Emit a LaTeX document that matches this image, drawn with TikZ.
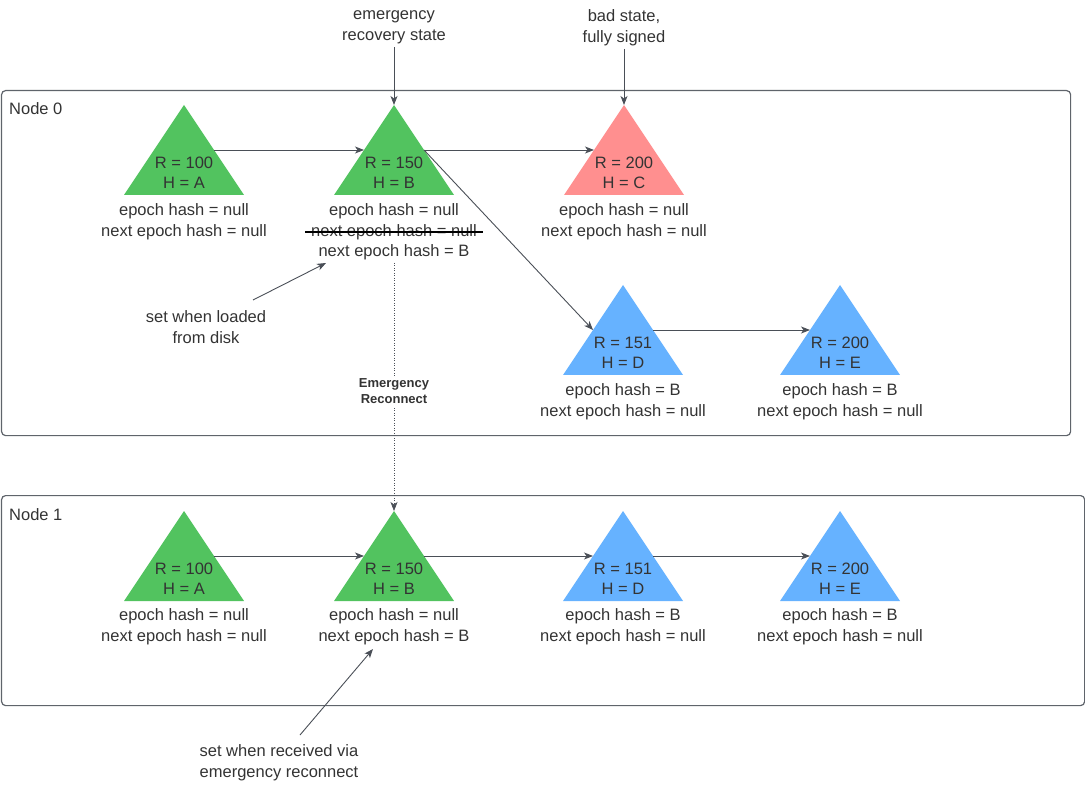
\documentclass[tikz,border=0pt]{standalone}
\usepackage{fontspec}
\setmainfont{Liberation Sans}
\usetikzlibrary{arrows.meta,calc}
\definecolor{txt}{HTML}{333333}
\definecolor{ln}{HTML}{4A4F57}
\definecolor{gfill}{HTML}{52C35F}
\definecolor{rfill}{HTML}{FF8F8F}
\definecolor{bfill}{HTML}{66B2FF}
\definecolor{boxc}{HTML}{5F646B}
\tikzset{
  txtnode/.style={text=txt, align=center, font=\fontsize{16.5}{20}\selectfont, inner sep=2pt, yshift=-2pt},
  lbl/.style={text=txt, align=center, font=\fontsize{16.5}{21}\selectfont, inner sep=3pt, yshift=-2pt},
  arr/.style={draw=ln, line width=0.9pt, -{Stealth[length=9pt,width=7pt,inset=2.5pt]}},
  grpbox/.style={draw=boxc, line width=1.2pt, rounded corners=4pt, anchor=north west, inner sep=0pt},
  strikeline/.style={draw=black, line width=1.5pt},
  dotline/.style={draw=ln, line width=0.6pt, dash pattern=on 1pt off 1.5pt, -{Stealth[length=9pt,width=7pt,inset=2.5pt]}},
  erlbl/.style={text=txt, align=center, font=\bfseries\fontsize{13}{16}\selectfont, fill=white, inner sep=2pt}
}
\newcommand{\mytri}[5]{%
  \coordinate (#1-top) at (#2,#3);
  \coordinate (#1-bl) at ($(#2,#3)+(-60,90)$);
  \coordinate (#1-br) at ($(#2,#3)+(60,90)$);
  \fill[fill=#4] (#1-top) -- (#1-bl) -- (#1-br) -- cycle;
  \coordinate (#1-le) at ($(#1-top)!0.5!(#1-bl)$);
  \coordinate (#1-re) at ($(#1-top)!0.5!(#1-br)$);
  \node[txtnode] (#1) at ($(#1-top)+(0,66)$) {#5};
}
\begin{document}
\begin{tikzpicture}[x=1pt,y=-1pt]
\useasboundingbox (0,0) rectangle (1085,786);

% group boxes
\node[grpbox, minimum width=1069pt, minimum height=345pt] (G0) at (1,90) {};
\node[grpbox, minimum width=1083pt, minimum height=210pt] (G1) at (1,495) {};
\node[lbl, anchor=west] (G0lab) at (6,107) {Node 0};
\node[lbl, anchor=west] (G1lab) at (6,513) {Node 1};

% Node 0 triangles
\mytri{A0}{184}{105}{gfill}{R = 100\\H = A}
\mytri{B0}{394}{105}{gfill}{R = 150\\H = B}
\mytri{C0}{624}{105}{rfill}{R = 200\\H = C}
\mytri{D0}{623}{285}{bfill}{R = 151\\H = D}
\mytri{E0}{840}{285}{bfill}{R = 200\\H = E}

\node[lbl] (A0-lab) at (184,219.5) {epoch hash = null\\next epoch hash = null};
\node[lbl] (B0-l1) at (394,209) {epoch hash = null};
\node[lbl, inner xsep=6pt] (B0-l2) at (394,230) {next epoch hash = null};
\node[lbl] (B0-l3) at (394,250) {next epoch hash = B};
\draw[strikeline] (B0-l2.west) -- (B0-l2.east);
\node[lbl] (C0-lab) at (624,219.5) {epoch hash = null\\next epoch hash = null};
\node[lbl] (D0-lab) at (623,399.5) {epoch hash = B\\next epoch hash = null};
\node[lbl] (E0-lab) at (840,399.5) {epoch hash = B\\next epoch hash = null};

\draw[arr] (A0-re) -- (B0-le);
\draw[arr] (B0-re) -- (C0-le);
\draw[arr] (B0-re) -- (D0-le);
\draw[arr] (D0-re) -- (E0-le);

% Node 1 triangles
\mytri{A1}{184}{511}{gfill}{R = 100\\H = A}
\mytri{B1}{394}{511}{gfill}{R = 150\\H = B}
\mytri{D1}{623}{511}{bfill}{R = 151\\H = D}
\mytri{E1}{840}{511}{bfill}{R = 200\\H = E}

\node[lbl] (A1-lab) at (184,624.5) {epoch hash = null\\next epoch hash = null};
\node[lbl] (B1-lab) at (394,624.5) {epoch hash = null\\next epoch hash = B};
\node[lbl] (D1-lab) at (623,624.5) {epoch hash = B\\next epoch hash = null};
\node[lbl] (E1-lab) at (840,624.5) {epoch hash = B\\next epoch hash = null};

\draw[arr] (A1-re) -- (B1-le);
\draw[arr] (B1-re) -- (D1-le);
\draw[arr] (D1-re) -- (E1-le);

% annotations
\node[lbl] (ann1) at (394,25.5) {emergency\\recovery state};
\node[lbl] (ann2) at (624,25.5) {bad state,\\fully signed};
\draw[arr] (ann1.south) -- (B0-top);
\draw[arr] (ann2.south) -- (C0-top);

\node[lbl] (ann3) at (206,325) {set when loaded\\from disk};
\coordinate (ann3-s) at (253,300);
\coordinate (B0-note) at (326,263);
\draw[arr] (ann3-s) -- (B0-note);

\node[lbl] (ann4) at (279,760.5) {set when received via\\emergency reconnect};
\coordinate (ann4-s) at (300,735);
\coordinate (B1-note) at (373,649);
\draw[arr] (ann4-s) -- (B1-note);

% emergency reconnect
\draw[dotline] (B0-l3.south) -- (B1-top);
\node[erlbl] (ER) at (394,391) {Emergency\\Reconnect};
\end{tikzpicture}
\end{document}
